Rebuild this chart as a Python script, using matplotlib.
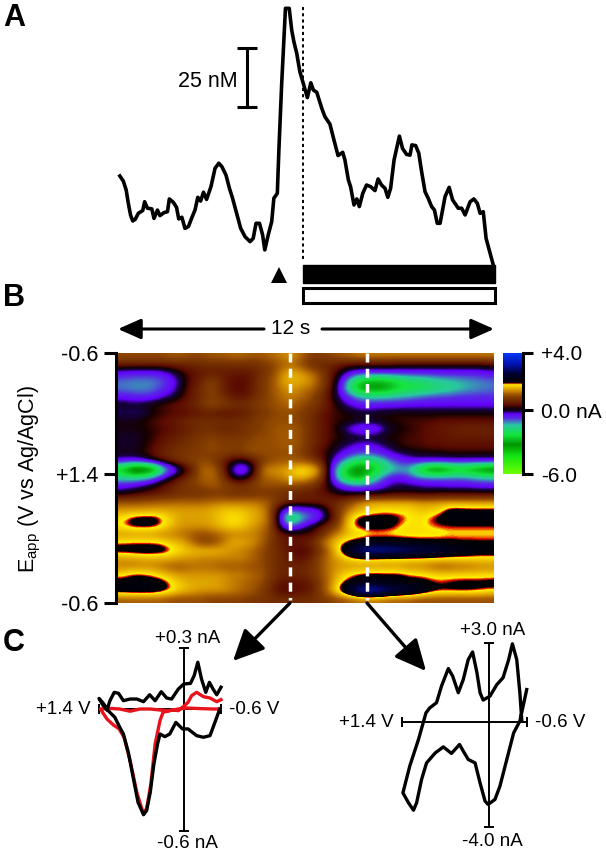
import numpy as np
import matplotlib
matplotlib.use('Agg')
import matplotlib.pyplot as plt
from matplotlib.colors import LinearSegmentedColormap, FuncNorm
from matplotlib.patches import Rectangle

plt.rcParams['font.family'] = ['Liberation Sans', 'DejaVu Sans']
plt.rcParams['mathtext.default'] = 'regular'

W, H = 606, 852

# panel A, dopamine trace
trace_t = [0.06,0.17,0.26,0.33,0.40,0.47,0.55,0.65,0.79,0.85,0.94,1.08,1.15,1.26,1.34,1.47,1.58,1.64,1.77,1.87,
           1.94,2.04,2.14,2.25,2.35,2.46,2.55,2.64,2.73,2.83,2.97,3.10,3.22,3.32,3.45,3.56,3.66,3.79,3.92,4.06,
           4.22,4.32,4.41,4.52,4.62,4.69,4.80,4.91,4.98,5.09,5.14,5.23,5.35,5.47,5.55,5.62,5.71,5.81,5.92,6.05,
           6.16,6.24,6.35,6.51,6.61,6.77,6.90,7.03,7.18,7.25,7.36,7.43,7.54,7.63,7.71,7.82,7.94,8.07,8.21,8.31,
           8.42,8.53,8.62,8.71,8.82,8.99,9.09,9.22,9.33,9.39,9.51,9.61,9.70,9.81,9.91,10.02,10.11,10.20,10.29,10.45,
           10.58,10.69,10.87,10.98,11.09,11.25,11.37,11.48,11.57,11.67,11.76,11.86,11.99]
trace_nM = [31.9,29.7,25.9,20.1,15.1,12.5,13.2,15.8,17.0,20.8,18.0,17.7,13.6,17.2,14.8,16.1,16.5,22.0,20.5,18.4,
            13.4,14.1,9.3,10.1,13.6,17.2,22.7,21.1,24.9,21.8,27.3,35.2,37.4,35.9,32.3,26.6,22.3,15.8,9.3,5.7,
            3.6,5.0,11.5,11.5,6.5,0.0,6.5,12.2,22.3,24.4,43.1,71.8,104.2,104.2,94.8,89.8,84.8,76.9,71.8,65.7,
            72.1,69.0,68.0,61.1,57.5,54.3,47.4,40.7,42.1,38.8,30.2,27.3,19.4,22.0,18.7,24.4,28.0,27.3,25.6,30.6,
            28.0,26.6,22.7,26.6,38.8,49.1,43.8,41.2,40.9,45.3,45.0,41.7,33.8,25.1,22.3,18.7,17.2,11.5,11.5,23.0,
            27.0,21.6,18.0,18.0,15.1,20.8,22.0,20.1,15.8,16.5,5.0,0.0,-6.5]
stim_t = 5.92
stim_end = 12.03
cue_t = 5.13
scale_t = 4.11
scale_nM = [61.6, 87.0]

# panel B, colour plot in nA, rows run along the voltage sweep
current = np.array([
    [1.0,1.0,1.0,1.0,1.0,1.1,1.1,1.0,1.0,1.1, 1.1,1.2,1.2,1.1,1.1,1.2,1.3,1.4,1.2,0.9, 0.9,1.0,1.1,1.2,1.3,1.3,1.3,1.3,1.3,1.3, 1.3,1.3,1.3,1.3,1.3,1.3,1.3,1.3],
    [.6,.6,.6,.6,.6,.6,.6,.6,.7,.7, .7,.7,.7,.7,.8,.9,1.1,1.2,1.0,.7, .6,.6,.5,.4,.4,.4,.4,.4,.3,.3, .3,.3,.3,.3,.3,.3,.3,.4],
    [-.4,-.5,-.5,-.5,-.4,-.1,.2,.4,.5,.5, .5,.5,.5,.5,.7,.9,1.3,1.5,1.4,1.2, .9,.5,.1,-.3,-.5,-.5,-.5,-.5,-.5,-.5, -.5,-.5,-.5,-.5,-.5,-.5,-.5,-.4],
    [-1.0,-1.1,-1.1,-1.1,-.9,-.5,.0,.4,.6,.9, .6,.4,.3,.5,.8,1.0,1.4,1.6,1.5,1.4, 1.0,.5,-.3,-1.5,-2.5,-2.8,-2.8,-2.6,-2.3,-2.0, -1.9,-1.7,-1.5,-1.4,-1.3,-1.2,-1.1,-1.0],
    [-1.1,-1.2,-1.2,-1.1,-.8,-.4,.1,.5,.7,1.0, .6,.4,.3,.5,.8,1.0,1.3,1.4,1.3,1.2, .9,.4,-.5,-2.0,-3.2,-3.4,-3.4,-3.0,-2.6,-2.4, -2.3,-2.1,-1.9,-1.7,-1.5,-1.3,-1.2,-1.1],
    [-.5,-.6,-.7,-.6,-.3,-.1,.2,.5,.7,.9, .7,.5,.4,.6,.8,1.0,1.2,1.3,1.2,1.0, .7,.3,-.3,-.8,-1.3,-1.5,-1.5,-1.4,-1.3,-1.2, -1.0,-.9,-.8,-.8,-.7,-.7,-.7,-.7],
    [.1,.0,.1,.2,.3,.4,.5,.6,.8,1.0, .9,.8,.7,.8,.9,1.0,1.1,1.2,1.0,.9, .7,.4,.0,-.3,-.5,-.6,-.5,-.5,-.5,-.4, -.4,-.4,-.4,-.4,-.4,-.4,-.4,-.4],
    [-.2,-.2,-.2,.1,.2,.3,.3,.4,.5,.5, .4,.4,.5,.6,.8,.9,1.0,1.0,.9,.7, .5,.3,.2,.1,.0,.0,.1,.1,.2,.1, .1,.1,.1,.1,.1,.1,.1,.1],
    [.1,.1,.2,.3,.4,.5,.6,.7,.7,.7, .7,.7,.7,.8,.9,1.0,1.0,1.0,.9,.7, .5,.3,.2,.2,.1,.1,.1,.2,.2,.3, .3,.3,.4,.4,.4,.4,.4,.4],
    [.1,.1,.1,.2,.3,.4,.5,.6,.7,.7, .6,.6,.7,.8,.9,1.0,1.1,1.1,1.0,.7, .5,.3,.0,-.5,-.8,-.8,-.5,.0,.1,.2, .3,.4,.5,.5,.6,.6,.6,.6],
    [.0,.0,.1,.2,.4,.5,.6,.7,.8,.9, .8,.8,.8,.9,1.0,1.0,1.1,1.1,1.0,.7, .5,.3,.2,.1,.1,.1,.1,.2,.2,.3, .3,.4,.4,.5,.5,.5,.5,.5],
    [.0,.0,.1,.3,.5,.6,.7,.8,.9,1.0, .9,.9,.9,1.0,1.0,1.0,1.1,1.1,1.0,.7, .5,.2,.0,-.2,-.4,-.4,-.2,.0,.2,.3, .3,.4,.4,.4,.4,.4,.4,.4],
    [.1,.1,.2,.4,.6,.7,.8,.8,.9,.9, .9,.8,.9,1.0,1.0,1.0,1.0,1.0,.9,.6, .3,.1,-.3,-.6,-.8,-.8,-.6,-.3,-.1,.0, .1,.1,.1,.2,.2,.2,.2,.2],
    [-.4,-.5,-.3,.1,.4,.6,.8,.9,1.0,.9, .6,.2,.0,.3,.8,1.0,1.1,1.1,1.1,1.0, .6,-.1,-.9,-1.7,-2.3,-2.2,-1.8,-1.1,-.7,-.5, -.4,-.4,-.4,-.4,-.4,-.4,-.4,-.4],
    [-3.0,-4.3,-4.3,-4.0,-2.0,-.8,-.1,.5,1.2,1.2, .8,-.3,-1.0,-.2,1.2,1.4,1.4,1.6,1.8,1.7, 1.3,-.3,-2.0,-3.2,-3.6,-3.0,-2.4,-1.7,-1.4,-1.5, -2.8,-3.7,-3.9,-3.4,-3.0,-3.3,-3.6,-4.0],
    [-1.6,-1.7,-1.5,-1.0,-.3,.1,.5,.8,1.1,1.2, .9,.1,-.1,.4,1.1,1.2,1.3,1.5,1.6,1.4, 1.0,-.2,-1.9,-2.8,-3.0,-2.2,-1.2,-.5,-.4,-.7, -1.0,-1.0,-1.0,-1.0,-1.0,-1.1,-1.3,-1.4],
    [-.5,-.3,-.1,.1,.4,.6,.8,.9,1.0,1.1, 1.0,.9,.8,.9,1.0,1.0,1.0,1.0,.9,.8, .5,.0,-.5,-.9,-1.0,-.8,-.5,-.2,-.1,-.1, -.2,-.3,-.3,-.4,-.4,-.4,-.5,-.5],
    [.1,.2,.3,.4,.5,.6,.7,.7,.7,.8, .8,.7,.7,.7,.8,.8,.7,.6,.5,.5, .4,.3,.1,.1,.1,.1,.1,.2,.2,.2, .2,.2,.3,.3,.3,.3,.3,.3],
    [1.05,1.05,1.1,1.1,1.15,1.15,1.15,1.15,1.15,1.2, 1.25,1.25,1.25,1.25,1.2,1.0,.8,.6,.6,.6, .6,.6,.7,1.0,1.3,1.5,1.5,1.5,1.5,1.5, 1.4,1.4,1.4,1.4,1.4,1.4,1.4,1.4],
    [1.4,1.4,1.4,1.45,1.45,1.45,1.45,1.45,1.45,1.5, 1.6,1.65,1.6,1.5,1.4,1.0,-.2,-.8,-.7,-.6, -.3,.4,.9,1.3,1.5,1.6,1.7,1.7,1.7,1.7, 1.6,1.6,1.7,2.0,2.0,1.95,1.95,1.95],
    [1.75,1.95,2.0,2.0,1.85,1.6,1.45,1.45,1.45,1.5, 1.65,1.75,1.7,1.55,1.4,1.1,-.6,-2.6,-1.5,-1.0, -.5,.2,1.0,1.7,2.0,2.0,2.0,2.0,1.9,1.8, 1.7,1.85,1.95,2.05,2.1,2.1,2.1,2.1],
    [1.8,1.95,1.95,1.95,1.8,1.55,1.4,1.4,1.4,1.45, 1.6,1.7,1.65,1.45,1.3,1.0,-.3,-1.0,-.4,.0, .4,.7,1.1,1.8,1.9,2.0,2.0,1.95,1.8,1.7, 1.75,1.8,1.85,1.85,1.85,1.85,1.85,1.85],
    [1.4,1.4,1.4,1.4,1.3,1.3,1.2,1.1,1.0,1.1, 1.2,1.3,1.3,1.3,1.2,.9,.5,.4,.3,.3, .6,1.1,1.4,1.6,1.65,1.7,1.7,1.7,1.7,1.7, 1.7,1.7,1.7,1.75,1.75,1.75,1.75,1.75],
    [1.78,1.8,1.8,1.8,1.75,1.6,1.5,1.2,.9,.9, 1.2,1.5,1.5,1.4,1.2,.8,.5,.4,.5,.6, 1.1,1.5,1.75,1.9,2.0,2.1,2.1,2.1,2.05,2.0, 1.95,1.95,1.95,1.95,1.9,1.9,1.9,1.9],
    [2.05,2.1,2.1,2.1,2.05,1.85,1.7,1.6,1.6,1.6, 1.5,1.4,1.3,1.2,1.0,.8,.6,.4,.2,.4, .8,1.3,1.9,2.5,3.1,3.3,3.3,3.2,3.1,3.0, 2.9,2.8,2.6,2.4,2.3,2.2,2.1,2.1],
    [1.4,1.4,1.5,1.5,1.5,1.5,1.4,1.4,1.3,1.3, 1.3,1.3,1.3,1.2,1.0,.8,.6,.5,.4,.6, 1.0,1.3,1.5,1.7,1.75,1.75,1.7,1.7,1.7,1.7, 1.7,1.7,1.7,1.7,1.7,1.7,1.7,1.7],
    [1.3,1.3,1.3,1.3,1.2,1.1,1.1,1.2,1.2,1.2, 1.1,1.1,1.1,1.0,1.0,.8,.6,.6,.6,.7, 1.0,1.3,1.4,1.4,1.4,1.4,1.4,1.4,1.4,1.3, 1.3,1.2,1.1,1.1,1.2,1.2,1.3,1.3],
    [1.75,1.9,1.9,1.8,1.65,1.5,1.4,1.4,1.4,1.4, 1.4,1.3,1.3,1.2,1.1,.8,.6,.6,.6,.7, 1.0,1.3,1.6,1.8,1.9,1.95,1.95,1.95,1.95,1.85, 1.8,1.75,1.7,1.7,1.7,1.7,1.7,1.7],
    [2.0,2.05,2.05,2.05,2.0,1.75,1.6,1.5,1.5,1.5, 1.4,1.3,1.2,1.1,1.0,.7,.4,.4,.4,.5, .9,1.3,1.8,1.95,2.1,2.2,2.1,2.05,2.0,1.95, 2.0,1.9,1.85,1.9,1.95,1.95,1.95,2.0],
    [2.1,2.15,2.15,2.15,2.0,1.8,1.6,1.5,1.4,1.4, 1.4,1.3,1.2,1.1,.9,.6,.3,.3,.4,.5, .9,1.4,2.0,2.7,3.4,3.6,3.3,3.0,2.8,2.6, 2.4,2.1,1.95,1.95,1.95,1.95,1.9,1.8],
    [1.1,1.1,1.1,1.1,1.1,1.0,1.0,1.0,1.0,.9, .9,.9,.9,.8,.8,.7,.7,.7,.7,.7, .8,.9,1.0,1.1,1.2,1.2,1.2,1.1,1.1,1.1, 1.0,1.0,1.0,1.0,1.0,1.0,1.0,1.0],
])
cut_times = [5.5, 7.96]
sweep_ticks = [0, 0.486, 1]
sweep_labels = ['-0.6', '+1.4', '-0.6']
cbar_ticks = [-6.0, 0.0, 4.0]
cbar_labels = ['-6.0', '0.0 nA', '+4.0']

# panel C, voltammograms at the two cut times
cv1_v = [-.60,-.53,-.47,-.41,-.35,-.28,-.22,-.16,-.10,.01,.10,.21,.29,.38,.48,.57,.67,.78,.89,1.00,1.08,1.15,1.22,1.27,1.34,1.40,
         1.33,1.25,1.14,1.06,1.00,.92,.84,.76,.67,.62,.56,.50,.44,.40,.32,.24,.14,.03,-.06,-.20,-.31,-.42,-.50,-.58]
cv1_i = [.107,.070,.098,.131,.082,.148,.230,.164,.126,.123,.098,.049,.054,.085,.041,.070,.036,.049,.049,.041,.077,.082,.041,-.005,.021,.052,
         .028,-.008,-.041,-.090,-.123,-.213,-.336,-.459,-.520,-.500,-.410,-.270,-.172,-.123,-.136,-.123,-.066,-.098,-.098,-.131,-.139,-.131,-.066,0]
cv1_fit_v = [-.60,-.53,-.42,-.31,-.20,-.12,-.06,.02,.10,.18,.26,.40,.56,.73,.89,1.06,1.22,1.38,
             1.36,1.27,1.17,1.07,.99,.89,.78,.68,.62,.55,.48,.40,.35,.24,.10,-.04,-.26,-.47,-.58]
cv1_fit_i = [.046,.036,.054,.061,.082,.066,.033,.011,-.008,-.005,-.008,-.005,0,0,-.011,0,.003,0,
             -.008,-.049,-.077,-.098,-.139,-.254,-.410,-.508,-.492,-.369,-.172,-.057,-.016,-.008,0,.005,.002,0,0]
cv1_ilim = [-0.6, 0.3]
cv2_v = [-.60,-.49,-.39,-.28,-.17,-.09,.02,.07,.15,.23,.34,.42,.48,.61,.74,.87,1.01,1.09,1.17,1.22,1.30,1.39,
         1.28,1.14,1.02,.96,.85,.77,.66,.59,.50,.42,.34,.27,.20,.15,.10,-.01,-.12,-.22,-.31,-.37,-.44,-.49,-.52]
cv2_i = [1.24,.04,-.41,-1.42,-2.43,-2.94,-3.13,-3.00,-2.31,-1.55,-1.42,-1.10,-.85,-1.19,-.94,-1.17,-1.55,-2.18,-3.07,-3.35,-3.07,-2.69,
         -1.67,-.66,.35,.54,.74,1.37,2.04,1.75,1.12,1.62,2.38,2.67,1.88,1.12,.84,.99,1.43,1.69,2.38,2.98,2.38,1.12,.10]
cv2_ilim = [-4.0, 3.0]
v_lim = [1.4, -0.6]

# colour scale, 0 nA sits a bit above the middle of the bar
zero_pos = 0.523
cmap = LinearSegmentedColormap.from_list('fscv', [
    (0.0, (110/255, 1, 0)), (0.144, (20/255, 230/255, 20/255)), (0.24, (0, 150/255, 0)),
    (0.32, (20/255, 230/255, 60/255)), (0.40, (40/255, 200/255, 160/255)), (0.458, (90/255, 40/255, 230/255)),
    (0.493, (100/255, 0, 1)), (0.515, (20/255, 0, 60/255)), (0.54, (20/255, 0, 0)),
    (0.565, (90/255, 10/255, 0)), (0.60, (110/255, 40/255, 0)), (0.63, (130/255, 60/255, 0)),
    (0.66, (170/255, 95/255, 0)), (0.69, (215/255, 150/255, 0)), (0.72, (245/255, 205/255, 0)),
    (0.736, (1, 240/255, 0)), (0.742, (230/255, 20/255, 0)), (0.748, (0, 0, 0)),
    (0.825, (0, 0, 50/255)), (0.905, (0, 20/255, 180/255)), (1.0, (0, 60/255, 1)),
], N=1024)
norm = FuncNorm((lambda v: np.interp(v, [-6, 0, 4], [0, zero_pos, 1]),
                 lambda p: np.interp(p, [0, zero_pos, 1], [-6, 0, 4])), vmin=-6, vmax=4)


def px_axes(x0, y0, x1, y1):
    return fig.add_axes([x0/W, 1-y1/H, (x1-x0)/W, (y1-y0)/H])


fig = plt.figure(figsize=(W/100, H/100), dpi=100)

# --- A ---
ax_a = px_axes(118, 0, 493.6, 310)
ax_a.set_xlim(0, 12)
ax_a.set_ylim(-25.9, 107.8)
ax_a.axis('off')
ax_a.plot(trace_t, trace_nM, color='k', lw=2.6, solid_joinstyle='round', clip_on=False)
ax_a.plot([stim_t, stim_t], [-4, 106], color='k', lw=1.4, ls=(0, (1.6, 1.6)))
ax_a.plot([scale_t, scale_t], scale_nM, color='k', lw=2.2, marker='_', ms=14, mew=2.2, clip_on=False)
ax_a.text(scale_t-0.3, np.mean(scale_nM)-1.7, '25 nM', fontsize=15.5, ha='right', va='center')
tr = ax_a.get_xaxis_transform()
ax_a.add_patch(Rectangle((stim_t, 0.0871), stim_end-stim_t, 0.058, transform=tr, fc='k', ec='k', lw=1, clip_on=False))
ax_a.add_patch(Rectangle((stim_t, 0.0226), stim_end-stim_t, 0.047, transform=tr, fc='w', ec='k', lw=2.2, clip_on=False))
ax_a.plot([cue_t], [0.112], marker='^', color='k', ms=12, mew=0, transform=tr, clip_on=False)

# --- B ---
ax_b = px_axes(118, 352.8, 493.6, 603)
im = ax_b.imshow(current, cmap=cmap, norm=norm, aspect='auto', extent=(0, 12, 1, 0),
                 interpolation='bicubic', interpolation_stage='data')
for t in cut_times:
    ax_b.plot([t, t], [0, 0.99], color='w', lw=2.5, ls=(0, (2.6, 1.8)))
ax_b.set_xlim(0, 12)
ax_b.set_ylim(1, 0)
ax_b.set_xticks([])
ax_b.set_yticks(sweep_ticks)
ax_b.set_yticklabels(sweep_labels)
ax_b.tick_params(axis='y', length=9, width=2.2, pad=3.5, labelsize=15.5)
for s in ['top', 'right', 'bottom']:
    ax_b.spines[s].set_visible(False)
ax_b.spines['left'].set_linewidth(2.2)
ax_b.spines['left'].set_position(('outward', 1.5))
ax_b.set_ylabel('E$_{app}$ (V vs Ag/AgCl)', fontsize=15.5)
ax_b.yaxis.set_label_coords(-0.2, 0.495)

ax_c = px_axes(503.3, 352.5, 521.7, 474)
ramp = np.linspace(1, 0, 256).reshape(-1, 1)
ax_c.imshow(ramp, cmap=cmap, vmin=0, vmax=1, aspect='auto', extent=(0, 1, 0, 1), interpolation='bilinear')
ax_c.set_xticks([])
ax_c.yaxis.tick_right()
ax_c.set_yticks([float(norm(v)) for v in cbar_ticks])
ax_c.set_yticklabels(cbar_labels)
ax_c.tick_params(axis='y', length=7, width=2.2, pad=6, labelsize=15)
for s in ['top', 'left', 'bottom']:
    ax_c.spines[s].set_visible(False)
ax_c.spines['right'].set_linewidth(2.2)
ax_c.spines['right'].set_position(('outward', 1))

# --- C ---
ax_l = px_axes(99, 648, 221, 831)
ax_l.set_xlim(v_lim)
ax_l.set_ylim(cv1_ilim)
ax_l.axis('off')
ax_l.plot(v_lim, [0, 0], color='k', lw=1.4, marker='|', ms=7, mew=1.4, clip_on=False)
ax_l.plot([0, 0], cv1_ilim, color='k', lw=1.4, marker='_', ms=7, mew=1.4, clip_on=False)
ax_l.plot(cv1_fit_v, cv1_fit_i, color='#e8141c', lw=2.4, clip_on=False)
ax_l.plot(cv1_v, cv1_i, color='k', lw=2.4, clip_on=False)

ax_r = px_axes(402.3, 643.3, 526.7, 827.3)
ax_r.set_xlim(v_lim)
ax_r.set_ylim(cv2_ilim)
ax_r.axis('off')
ax_r.plot(v_lim, [0, 0], color='k', lw=1.4, marker='|', ms=7, mew=1.4, clip_on=False)
ax_r.plot([0, 0], cv2_ilim, color='k', lw=1.4, marker='_', ms=7, mew=1.4, clip_on=False)
ax_r.plot(cv2_v, cv2_i, color='k', lw=2.4, clip_on=False)

for ax, ilim, top_lab, bot_lab, dy, dy2 in [(ax_l, cv1_ilim, '+0.3 nA', '-0.6 nA', 7, -9), (ax_r, cv2_ilim, '+3.0 nA', '-4.0 nA', 9, -10.5)]:
    ax.annotate(top_lab, (0, ilim[1]), xytext=(2, dy), textcoords='offset points', fontsize=13.5, ha='center', va='center')
    ax.annotate(bot_lab, (0, ilim[0]), xytext=(2, dy2), textcoords='offset points', fontsize=13.5, ha='center', va='center')
    ax.annotate('+1.4 V', (v_lim[0], 0), xytext=(-6, 0), textcoords='offset points', fontsize=13.5, ha='right', va='center')
    ax.annotate('-0.6 V', (v_lim[1], 0), xytext=(6, 0), textcoords='offset points', fontsize=13.5, ha='left', va='center')

# overlay in pixels for letters and arrows
top = fig.add_axes([0, 0, 1, 1])
top.set_xlim(0, W)
top.set_ylim(H, 0)
top.axis('off')
top.patch.set_alpha(0)
for letter, y in [('A', 18), ('B', 298), ('C', 643)]:
    top.text(3, y, letter, fontsize=22, fontweight='bold', ha='left', va='center')
top.text(291, 329, '12 s', fontsize=15, ha='center', va='center')
thin = dict(arrowstyle='-|>,head_length=1.4,head_width=0.62', color='k', lw=2.2, mutation_scale=10, shrinkA=0, shrinkB=0)
fat = dict(arrowstyle='-|>,head_length=1.9,head_width=0.9', color='k', lw=2.4, mutation_scale=10, shrinkA=0, shrinkB=0)
top.annotate('', xy=(118, 329), xytext=(264, 329), arrowprops=thin)
top.annotate('', xy=(494, 329), xytext=(322, 329), arrowprops=thin)
top.annotate('', xy=(233, 661), xytext=(290, 603), arrowprops=fat)
top.annotate('', xy=(426, 671), xytext=(367, 603), arrowprops=fat)

fig.savefig('out.png', dpi=100)
